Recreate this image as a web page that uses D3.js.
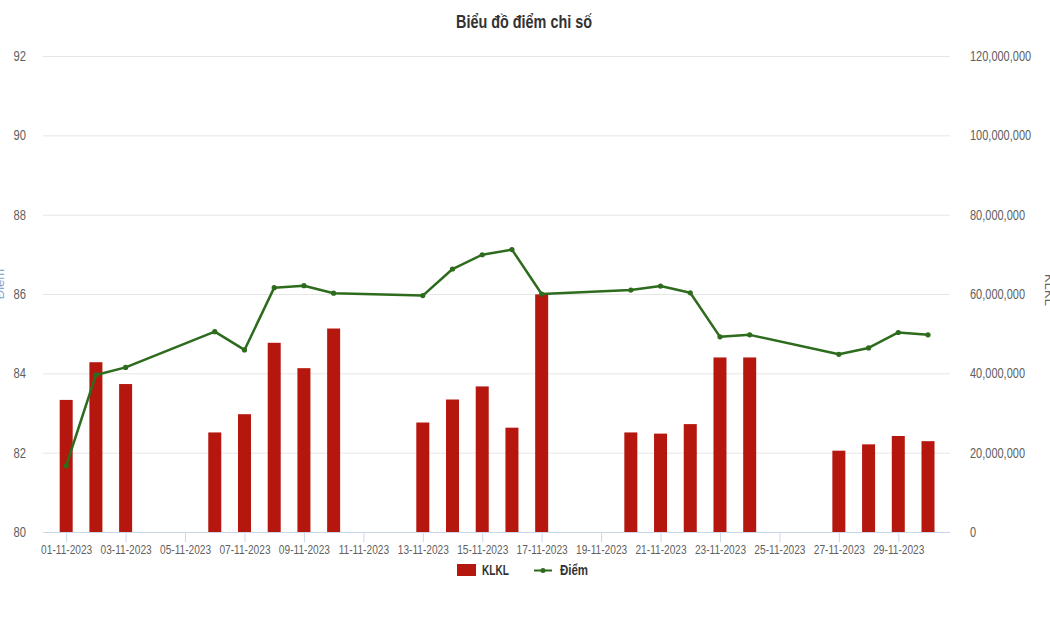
<!DOCTYPE html>
<html><head><meta charset="utf-8">
<script src="https://cdn.jsdelivr.net/npm/d3@7"></script>
<style>
body{margin:0;background:#fff;}
text{font-family:"Liberation Sans",Arial,sans-serif;}
</style></head>
<body><svg id="c" width="1050" height="630"></svg>
<script>
const dates = ["2023-11-01","2023-11-02","2023-11-03","2023-11-06","2023-11-07","2023-11-08","2023-11-09","2023-11-10","2023-11-13","2023-11-14","2023-11-15","2023-11-16","2023-11-17","2023-11-20","2023-11-21","2023-11-22","2023-11-23","2023-11-24","2023-11-27","2023-11-28","2023-11-29","2023-11-30"];
const klkl = [33300000,42800000,37300000,25100000,29700000,47700000,41300000,51300000,27600000,33400000,36700000,26300000,59900000,25100000,24800000,27200000,44000000,44000000,20500000,22100000,24200000,22900000];
const diem = [81.67,83.96,84.15,85.05,84.59,86.16,86.21,86.02,85.96,86.63,86.99,87.12,86.0,86.10,86.20,86.03,84.92,84.97,84.48,84.64,85.03,84.97];
const tickDates = ["2023-11-01","2023-11-03","2023-11-05","2023-11-07","2023-11-09","2023-11-11","2023-11-13","2023-11-15","2023-11-17","2023-11-19","2023-11-21","2023-11-23","2023-11-25","2023-11-27","2023-11-29"];
const leftTicks = [80,82,84,86,88,90,92];
const rightTicks = [0,20000000,40000000,60000000,80000000,100000000,120000000];

const svg = d3.select("#c");
const L=43, R=950, T=56, B=532;
const parse = d3.utcParse("%Y-%m-%d");
const DAY = 86400000;
const d0 = parse("2023-11-01"), d1 = parse("2023-11-30");
const x = d3.scaleUtc().domain([new Date(+d0 - 0.78*DAY), new Date(+d1 + 0.74*DAY)]).range([L,R]);
const yL = d3.scaleLinear().domain([80,92]).range([B,T]);
const yR = d3.scaleLinear().domain([0,120000000]).range([B,T]);

// condense text horizontally (reference uses a condensed typeface)
function condense(sel, f){
  sel.each(function(){
    const w = this.getComputedTextLength();
    d3.select(this).attr("textLength", w*f).attr("lengthAdjust","spacingAndGlyphs");
  });
}

// title
svg.append("text").attr("x",524).attr("y",28).attr("text-anchor","middle")
  .style("font-size","18px").style("font-weight","bold").attr("fill","#333").text("Biểu đồ điểm chỉ số")
  .call(condense,0.8);

// grid
svg.append("g").selectAll("line").data(leftTicks.slice(1)).join("line")
  .attr("x1",L).attr("x2",R).attr("y1",d=>yL(d)+0.5).attr("y2",d=>yL(d)+0.5)
  .attr("stroke","#e6e6e6").attr("stroke-width",1);

// left labels
svg.append("g").selectAll("text").data(leftTicks).join("text")
  .attr("x",26).attr("y",d=>yL(d)+5).attr("text-anchor","end")
  .style("font-size","14px").attr("fill","#606060").text(d=>d).call(condense,0.8);
// right labels
const fmt = d3.format(",");
svg.append("g").selectAll("text").data(rightTicks).join("text")
  .attr("x",970).attr("y",d=>yR(d)+5).attr("text-anchor","start")
  .style("font-size","14px").attr("fill","#606060").text(d=>fmt(d)).call(condense,0.785);

// axis titles (mostly outside the frame, as in the reference)
svg.append("text").attr("transform","translate(4,284) rotate(-90)").attr("text-anchor","middle")
  .style("font-size","13px").attr("fill","#8aa8cc").text("Điểm");
svg.append("text").attr("transform","translate(1045,290) rotate(90)").attr("text-anchor","middle")
  .style("font-size","13px").attr("fill","#666").text("KLKL");

// bars
const bw = 13;
svg.append("g").selectAll("rect").data(dates).join("rect")
  .attr("x",(d)=>x(parse(d))-bw/2).attr("width",bw)
  .attr("y",(d,i)=>yR(klkl[i])).attr("height",(d,i)=>B-yR(klkl[i]))
  .attr("fill","#b5170e");

// x axis
const xAxis = d3.axisBottom(x).tickValues(tickDates.map(parse)).tickFormat(d3.utcFormat("%d-%m-%Y")).tickSize(10).tickSizeOuter(0);
const gx = svg.append("g").attr("transform",`translate(0,${B})`).call(xAxis);
gx.attr("font-family",null).attr("font-size",null);
gx.select(".domain").attr("stroke","#ccd6eb").attr("d",`M${L},0.5H${R}`);
gx.selectAll(".tick line").attr("stroke","#ccd6eb");
gx.selectAll(".tick text").attr("fill","#606060").style("font-size","13px").attr("dy","0.71em").attr("y",12.5)
  .call(condense,0.78);

// line
const line = d3.line().x((d,i)=>x(parse(dates[i]))).y(d=>yL(d));
svg.append("path").datum(diem).attr("d",line).attr("fill","none")
  .attr("stroke","#2d6b1d").attr("stroke-width",2.5).attr("stroke-linejoin","round");
svg.append("g").selectAll("circle").data(diem).join("circle")
  .attr("cx",(d,i)=>x(parse(dates[i]))).attr("cy",d=>yL(d)).attr("r",2.6).attr("fill","#2d6b1d");

// legend
const lg = svg.append("g");
lg.append("rect").attr("x",457).attr("y",564).attr("width",19).attr("height",12).attr("fill","#b5170e");
lg.append("text").attr("x",482).attr("y",575).style("font-size","14px").style("font-weight","bold").attr("fill","#333").text("KLKL").call(condense,0.72);
lg.append("line").attr("x1",534).attr("x2",552).attr("y1",570.5).attr("y2",570.5).attr("stroke","#2d6b1d").attr("stroke-width",2);
lg.append("circle").attr("cx",543).attr("cy",570.5).attr("r",2.5).attr("fill","#2d6b1d");
lg.append("text").attr("x",560).attr("y",575).style("font-size","14px").style("font-weight","bold").attr("fill","#333").text("Điểm").call(condense,0.82);
</script></body></html>
